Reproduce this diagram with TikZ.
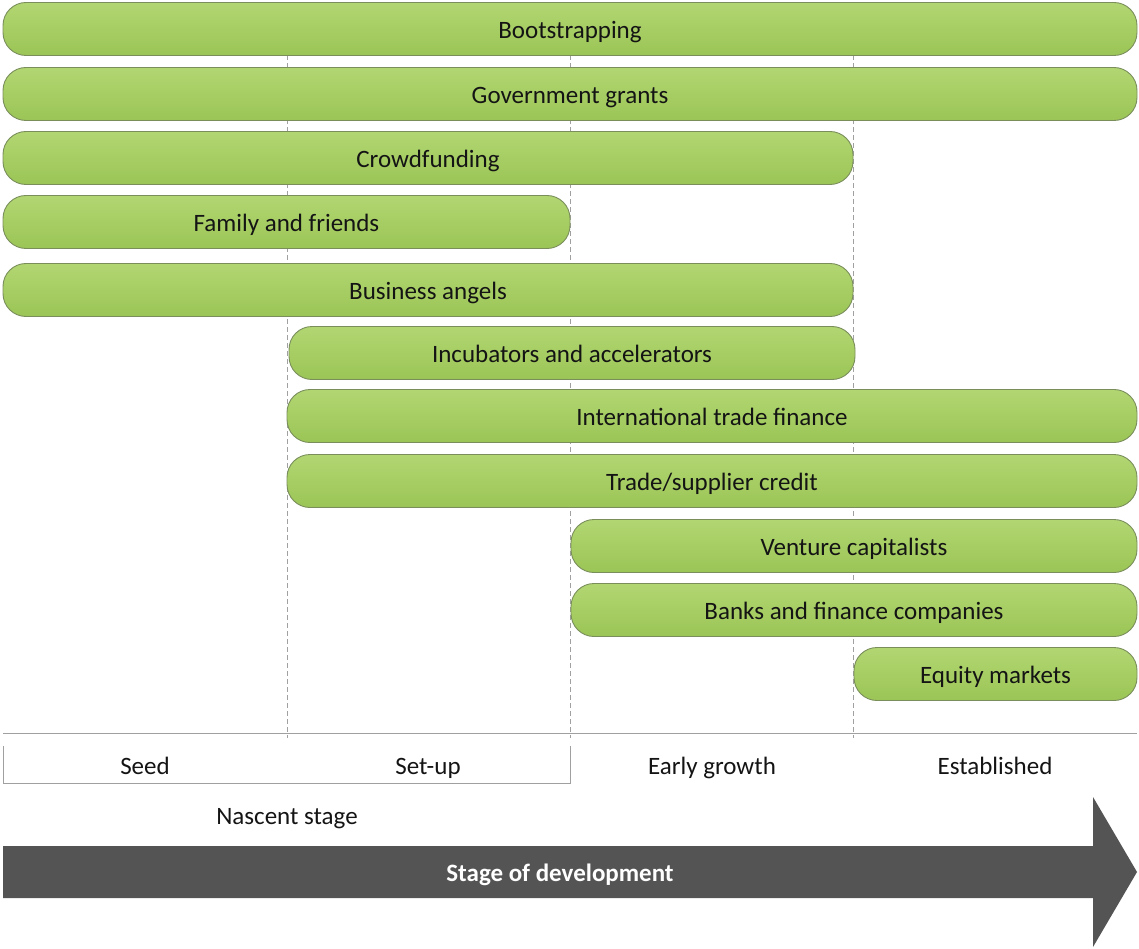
\documentclass[tikz,border=0pt]{standalone}
\usepackage{fontspec}
\setmainfont{Carlito}
\usetikzlibrary{positioning}
\definecolor{bartop}{RGB}{178,214,114}
\definecolor{barbot}{RGB}{155,197,86}
\definecolor{barline}{RGB}{122,142,92}
\definecolor{guide}{RGB}{160,160,160}
\definecolor{arrowgray}{RGB}{84,84,84}
\definecolor{txt}{RGB}{20,20,20}
\tikzset{
  bar/.style={rectangle, rounded corners=23pt, draw=barline, line width=0.9pt,
    top color=bartop, bottom color=barbot, minimum height=53pt, inner sep=0pt,
    outer sep=0pt, font=\fontsize{25}{28}\selectfont, text=txt, anchor=west,
    text height=19pt, text depth=0pt},
  guideline/.style={draw=guide, line width=0.8pt, dash pattern=on 5pt off 3pt},
  axisline/.style={draw=guide, line width=1pt},
  stagelabel/.style={font=\fontsize{25}{28}\selectfont, text=txt, inner sep=0pt,
    text height=19pt, text depth=0pt},
}
\begin{document}
\begin{tikzpicture}[x=1pt,y=-1pt]
\useasboundingbox (0,0) rectangle (1139,949);
% guide lines
\draw[guideline] (287,55) -- (287,738);
\draw[guideline] (570,55) -- (570,738);
\draw[guideline] (853,55) -- (853,738);
% bars
\node[bar, minimum width=1134pt] (boot) at (3,29) {Bootstrapping};
\node[bar, minimum width=1134pt] (gov) at (3,94) {Government grants};
\node[bar, minimum width=850pt] (crowd) at (3,158) {Crowdfunding};
\node[bar, minimum width=567pt] (family) at (3,222) {Family and friends};
\node[bar, minimum width=850pt] (angels) at (3,290) {Business angels};
\node[bar, minimum width=566pt] (incub) at (289,353) {Incubators and accelerators};
\node[bar, minimum width=850pt] (intl) at (287,416) {International trade finance};
\node[bar, minimum width=850pt] (trade) at (287,481) {Trade/supplier credit};
\node[bar, minimum width=566pt] (vc) at (571,546) {Venture capitalists};
\node[bar, minimum width=566pt] (banks) at (571,610) {Banks and finance companies};
\node[bar, minimum width=283pt] (equity) at (854,674) {Equity markets};
% axis
\draw[axisline] (3,733) -- (1137,733);
\draw[axisline] (3,746) -- (3,783) -- (570,783) -- (570,746);
\node[stagelabel] (seed) at (145,765) {Seed};
\node[stagelabel] (setup) at (428,765) {Set-up};
\node[stagelabel] (early) at (712,765) {Early growth};
\node[stagelabel] (estab) at (995,765) {Established};
\node[stagelabel] (nascent) at (287,815) {Nascent stage};
% arrow
\fill[arrowgray] (3,846) -- (1093,846) -- (1093,797) -- (1137,872) -- (1093,947) -- (1093,898) -- (3,898) -- cycle;
\node[stagelabel, text=white, font=\bfseries\fontsize{25}{28}\selectfont] (stage) at (560,872) {Stage of development};
\end{tikzpicture}
\end{document}
